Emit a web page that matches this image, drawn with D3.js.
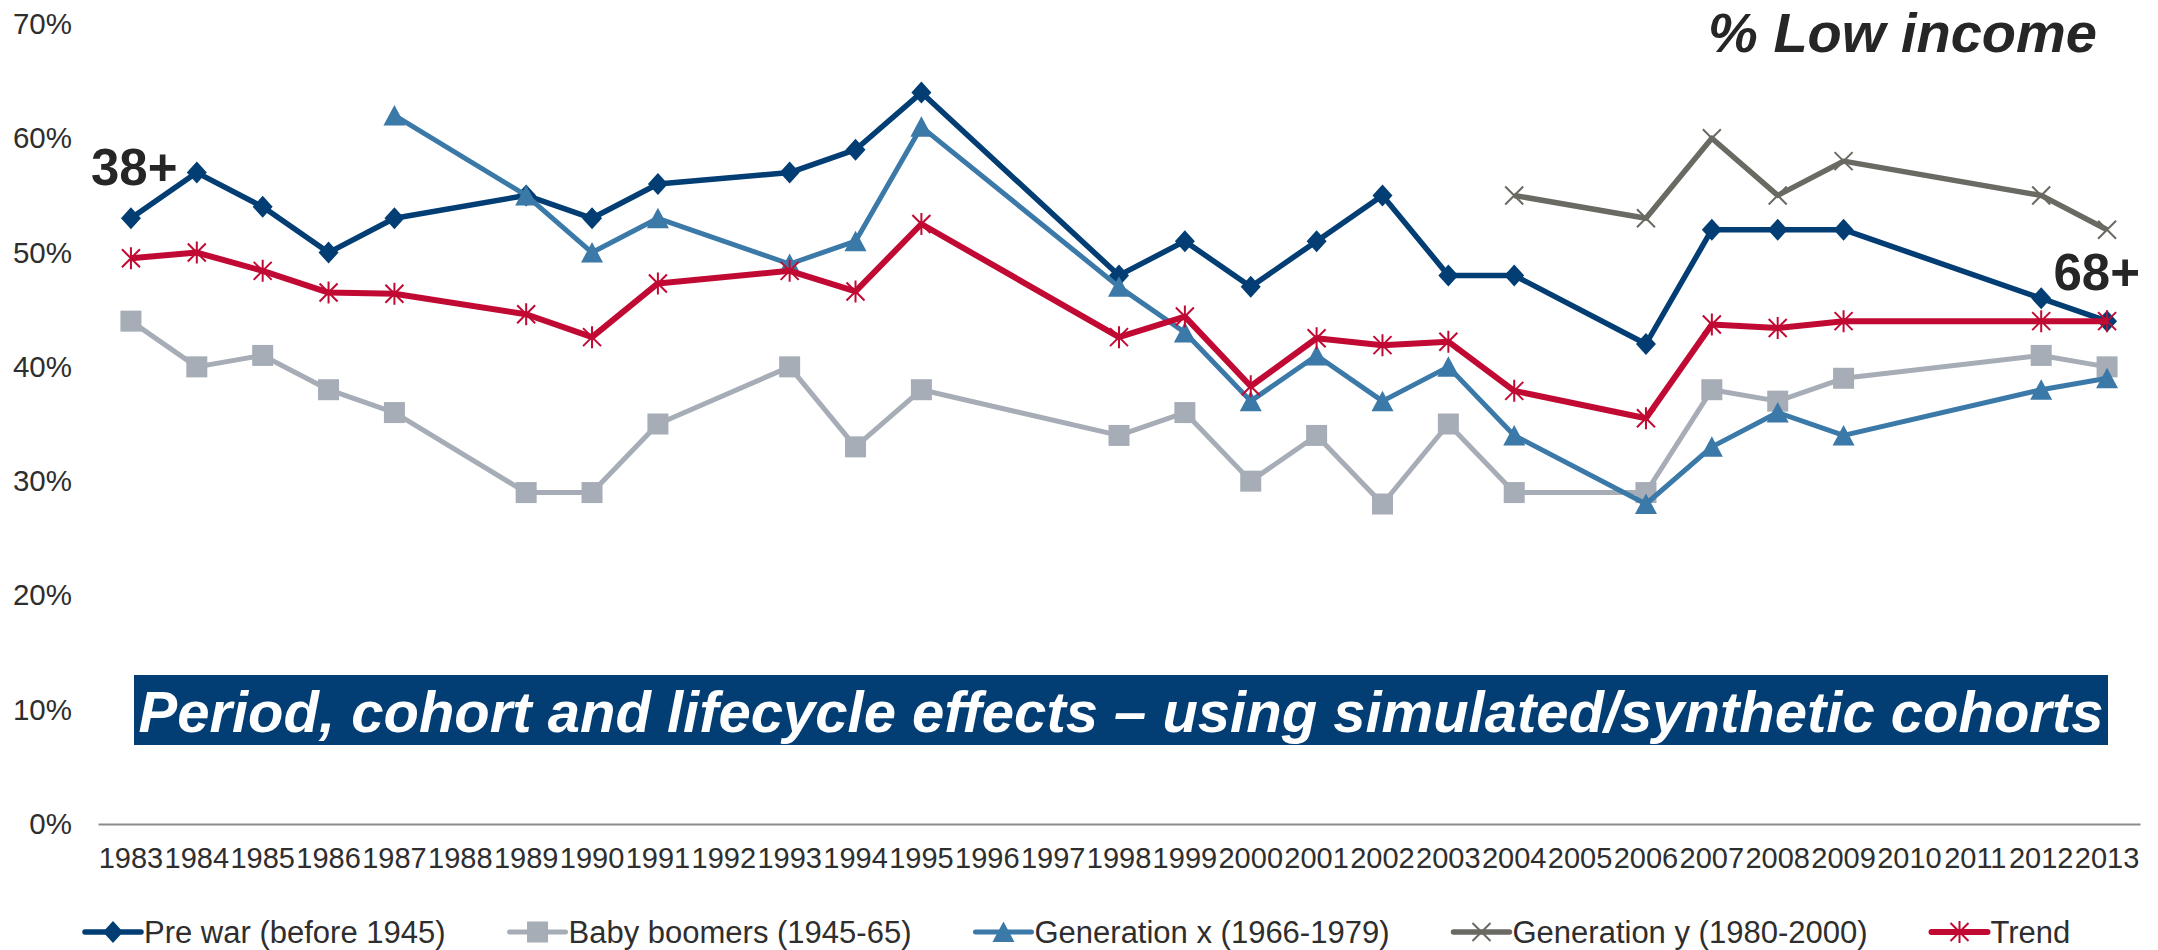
<!DOCTYPE html>
<html>
<head>
<meta charset="utf-8">
<script src="https://cdn.jsdelivr.net/npm/d3@7/dist/d3.min.js"></script>
<style>
  html, body { margin: 0; padding: 0; background: #ffffff; }
  svg { display: block; }
  text { font-family: Arial, "Liberation Sans", Helvetica, sans-serif; }
</style>
</head>
<body>
<svg id="chart" width="2158" height="950"></svg>
<script>
// Survey years on the category axis
const years = [1983,1984,1985,1986,1987,1988,1989,1990,1991,1992,1993,1994,1995,1996,1997,
               1998,1999,2000,2001,2002,2003,2004,2005,2006,2007,2008,2009,2010,2011,2012,2013];

// Share with low income (%) per year; null = no survey that year
const preWar      = [53,57,54,50,53,null,55,53,56,null,57,59,64,null,null,48,51,47,51,55,48,48,null,42,52,52,52,null,null,46,44];
const babyBoomers = [44,40,41,38,36,null,29,29,35,null,40,33,38,null,null,34,36,30,34,28,35,29,null,29,38,37,39,null,null,41,40];
const generationX = [null,null,null,null,62,null,55,50,53,null,49,51,61,null,null,47,43,37,41,37,40,34,null,28,33,36,34,null,null,38,39];
const generationY = [null,null,null,null,null,null,null,null,null,null,null,null,null,null,null,null,null,null,null,null,null,55,null,53,60,55,58,null,null,55,52];
const trend       = [49.5,50.0,48.4,46.5,46.4,null,44.6,42.6,47.3,null,48.4,46.6,52.5,null,null,42.6,44.4,38.3,42.5,41.9,42.2,37.9,null,35.5,43.7,43.4,44.0,null,null,44.0,44.0];

const seriesNames = ["Pre war (before 1945)", "Baby boomers (1945-65)", "Generation x (1966-1979)", "Generation y (1980-2000)", "Trend"];
const yTicks = [0,10,20,30,40,50,60,70];

const title = "% Low income";
const bannerText = "Period, cohort and lifecycle effects \u2013 using simulated/synthetic cohorts";
const startAgeLabel = "38+";
const endAgeLabel = "68+";

const series = [
  { name: seriesNames[0], values: preWar,      color: "#023e73", width: 5.5, marker: "diamond" },
  { name: seriesNames[1], values: babyBoomers, color: "#a6adb6", width: 5,   marker: "square" },
  { name: seriesNames[2], values: generationX, color: "#3b79a8", width: 5,   marker: "triangle" },
  { name: seriesNames[3], values: generationY, color: "#6a6a63", width: 5.5, marker: "cross" },
  { name: seriesNames[4], values: trend,       color: "#c10a33", width: 6,   marker: "star" }
];

const svg = d3.select("#chart");
svg.append("rect").attr("width", 2158).attr("height", 950).attr("fill", "#ffffff");

const x = d3.scaleBand().domain(years).range([98, 2140]).padding(0);
const y = d3.scaleLinear().domain([0, 70]).range([824, 24]);
const cx = yr => x(yr) + x.bandwidth() / 2;

// Y axis labels (no axis line, no ticks)
const yAxis = svg.append("g")
  .attr("transform", `translate(98,0)`)
  .call(d3.axisLeft(y).tickValues(yTicks).tickFormat(d => d + "%").tickSize(0).tickPadding(26));
yAxis.select(".domain").remove();
yAxis.selectAll("text")
  .attr("font-family", "Arial, 'Liberation Sans', sans-serif")
  .attr("font-size", 29.5).attr("fill", "#2e2e2e");

// X axis: baseline + year labels
const xAxis = svg.append("g")
  .attr("transform", `translate(0,824)`)
  .call(d3.axisBottom(x).tickValues(years).tickSize(0).tickPadding(23));
xAxis.select(".domain").attr("stroke", "#8c8c8c").attr("stroke-width", 2);
xAxis.selectAll("text")
  .attr("font-family", "Arial, 'Liberation Sans', sans-serif")
  .attr("font-size", 29).attr("fill", "#2e2e2e");

// Banner
svg.append("rect")
  .attr("x", 134).attr("y", 675).attr("width", 2108 - 134).attr("height", 70)
  .attr("fill", "#023e73");
svg.append("text")
  .attr("x", (134 + 2108) / 2).attr("y", 732)
  .attr("text-anchor", "middle")
  .attr("font-size", 58).attr("font-weight", "bold").attr("font-style", "italic")
  .attr("fill", "#ffffff")
  .text(bannerText);

// Marker drawing
function drawMarker(g, type, color) {
  if (type === "diamond") {
    g.append("path").attr("d", "M0,-11L10,0L0,11L-10,0Z").attr("fill", color);
  } else if (type === "square") {
    g.append("rect").attr("x", -10.5).attr("y", -10.5).attr("width", 21).attr("height", 21).attr("fill", color);
  } else if (type === "triangle") {
    g.append("path").attr("d", "M0,-10.5L11,10L-11,10Z").attr("fill", color);
  } else if (type === "cross") {
    g.append("path").attr("d", "M-9,-9L9,9M-9,9L9,-9")
      .attr("stroke", color).attr("stroke-width", 2).attr("fill", "none");
  } else if (type === "star") {
    g.append("path").attr("d", "M0,-11L0,11M-9,-9L9,9M-9,9L9,-9")
      .attr("stroke", color).attr("stroke-width", 2).attr("fill", "none");
  }
}

const line = d3.line().x(d => cx(d.year)).y(d => y(d.value));

series.forEach(s => {
  const pts = years.map((yr, i) => ({ year: yr, value: s.values[i] })).filter(d => d.value !== null);
  const g = svg.append("g");
  g.append("path")
    .attr("d", line(pts))
    .attr("fill", "none")
    .attr("stroke", s.color)
    .attr("stroke-width", s.width)
    .attr("stroke-linejoin", "round");
  pts.forEach(d => {
    const m = g.append("g").attr("transform", `translate(${cx(d.year)},${y(d.value)})`);
    drawMarker(m, s.marker, s.color);
  });
});

// Age annotations and title
svg.append("text")
  .attr("x", 91).attr("y", 185)
  .attr("font-size", 51).attr("font-weight", "bold").attr("fill", "#262626")
  .text(startAgeLabel);
svg.append("text")
  .attr("x", 2140).attr("y", 290).attr("text-anchor", "end")
  .attr("font-size", 51).attr("font-weight", "bold").attr("fill", "#262626")
  .text(endAgeLabel);
svg.append("text")
  .attr("x", 2097).attr("y", 52).attr("text-anchor", "end")
  .attr("font-size", 56).attr("font-weight", "bold").attr("font-style", "italic").attr("fill", "#262626")
  .text(title);

// Legend
const legend = svg.append("g");
let lx = 85;
const ly = 932;
series.forEach(s => {
  const item = legend.append("g");
  item.append("line")
    .attr("x1", lx).attr("x2", lx + 56).attr("y1", ly).attr("y2", ly)
    .attr("stroke", s.color).attr("stroke-width", s.width).attr("stroke-linecap", "round");
  const m = item.append("g").attr("transform", `translate(${lx + 28},${ly})`);
  drawMarker(m, s.marker, s.color);
  const t = item.append("text")
    .attr("x", lx + 59).attr("y", 943)
    .attr("font-size", 31).attr("fill", "#2e2e2e")
    .text(s.name);
  lx = lx + 59 + t.node().getComputedTextLength() + 64;
});
</script>
</body>
</html>
